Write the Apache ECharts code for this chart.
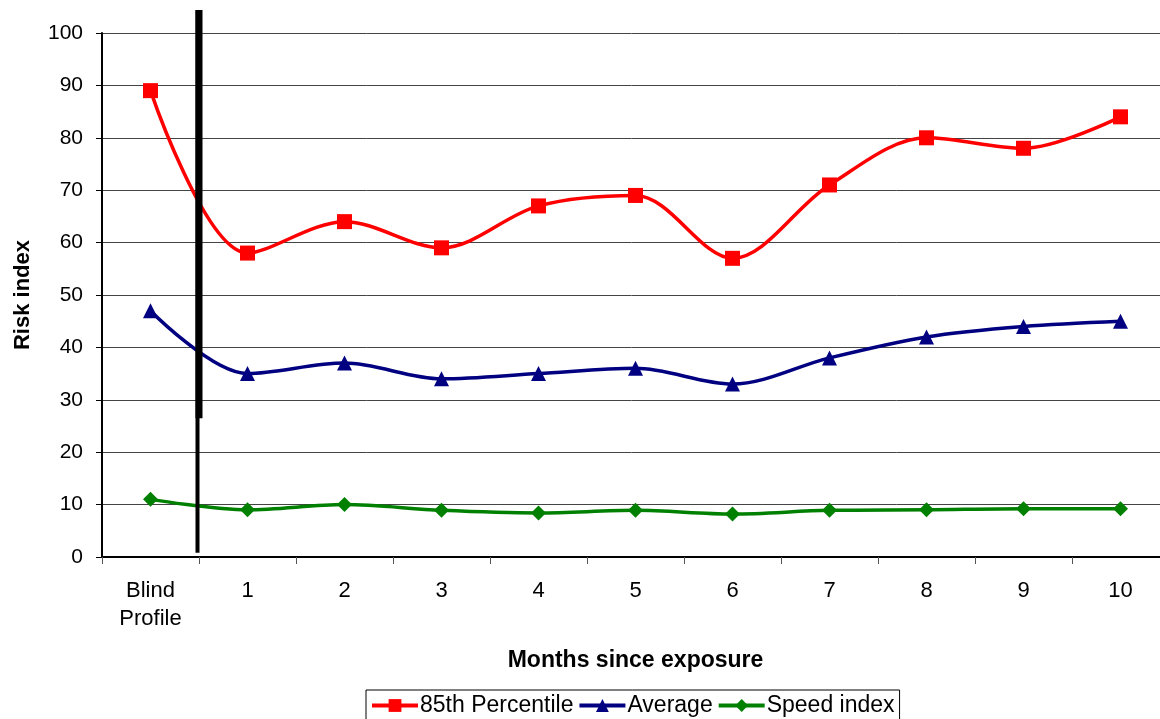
<!DOCTYPE html>
<html>
<head>
<meta charset="utf-8">
<script src="https://cdn.jsdelivr.net/npm/echarts@6/dist/echarts.min.js"></script>
<style>
  html, body { margin: 0; padding: 0; background: #fff; overflow: hidden; }
  #chart { width: 1160px; height: 719px; }
</style>
</head>
<body>
<div id="chart"></div>
<script>
// Categories along the x axis
const categories = ['Blind\nProfile', '1', '2', '3', '4', '5', '6', '7', '8', '9', '10'];

// Series values (risk index)
const percentile85 = [89, 58, 64, 59, 67, 69, 57, 71, 80, 78, 84];
const average = [47, 35, 37, 34, 35, 36, 33, 38, 42, 44, 45];
const speedIndex = [11, 9, 10, 8.9, 8.4, 8.9, 8.2, 8.9, 9, 9.2, 9.2];

// Y axis range and step
const yMin = 0, yMax = 100, yStep = 10;

// Separator between the blind profile and the monthly values (value-space extents)
const separatorTop = 104.4;
const separatorThickBottom = 26.5;
const separatorThinBottom = 0.8;

const FONT = '"Liberation Sans", Arial, sans-serif';

const chart = echarts.init(document.getElementById('chart'));

function lineSeries(name, data, color, symbol, size) {
  return {
    name: name,
    type: 'line',
    data: data,
    smooth: 0.33,
    symbol: symbol,
    symbolSize: size,
    lineStyle: { color: color, width: 3.5 },
    itemStyle: { color: color },
    z: 3
  };
}

chart.setOption({
  animation: false,
  backgroundColor: '#fff',
  textStyle: { fontFamily: FONT, color: '#000' },
  grid: { left: 102, top: 33, width: 1067, height: 524, containLabel: false, outerBoundsMode: 'none' },
  xAxis: {
    type: 'category',
    data: categories,
    boundaryGap: true,
    name: 'Months since exposure',
    nameLocation: 'middle',
    nameGap: 92,
    nameTextStyle: { fontFamily: FONT, fontSize: 23, fontWeight: 'bold', color: '#000' },
    axisLine: { lineStyle: { color: '#000', width: 2 } },
    axisTick: { show: true, interval: 0, alignWithLabel: false, length: 7, lineStyle: { color: '#555', width: 1 } },
    axisLabel: { interval: 0, fontFamily: FONT, fontSize: 22, color: '#000', margin: 20, lineHeight: 28 },
    splitLine: { show: false }
  },
  yAxis: {
    type: 'value',
    min: yMin,
    max: yMax,
    interval: yStep,
    name: 'Risk index',
    nameLocation: 'middle',
    nameGap: 68,
    nameRotate: 90,
    nameTextStyle: { fontFamily: FONT, fontSize: 22, fontWeight: 'bold', color: '#000' },
    axisLine: { show: true, lineStyle: { color: '#000', width: 2 } },
    axisTick: { show: true, length: 6, lineStyle: { color: '#000', width: 1 } },
    axisLabel: { fontFamily: FONT, fontSize: 21, color: '#000', margin: 19 },
    splitLine: { show: true, lineStyle: { color: '#444', width: 1 } }
  },
  legend: {
    left: 366,
    top: 690,
    itemWidth: 46,
    itemHeight: 16,
    itemGap: 4,
    padding: [4, 5, 6, 4],
    borderColor: '#000',
    borderWidth: 1,
    borderRadius: 0,
    lineStyle: { width: 4 },
    textStyle: { fontFamily: FONT, fontSize: 23, color: '#000', padding: [0, 0, 0, -3] },
    data: ['85th Percentile', 'Average', 'Speed index']
  },
  series: [
    lineSeries('85th Percentile', percentile85, '#ff0000', 'rect', 15),
    lineSeries('Average', average, '#000080', 'triangle', 15),
    lineSeries('Speed index', speedIndex, '#008000', 'diamond', 15)
  ]
});

// Thick vertical separator drawn between the first two categories
function drawSeparator() {
  const p0 = chart.convertToPixel({ gridIndex: 0 }, [0, 0]);
  const p1 = chart.convertToPixel({ gridIndex: 0 }, [1, 0]);
  const bx = (p0[0] + p1[0]) / 2;
  const yTop = chart.convertToPixel({ yAxisIndex: 0 }, separatorTop);
  const yThick = chart.convertToPixel({ yAxisIndex: 0 }, separatorThickBottom);
  const yThin = chart.convertToPixel({ yAxisIndex: 0 }, separatorThinBottom);
  chart.setOption({
    graphic: [
      { type: 'rect', z: 10, shape: { x: bx - 3.5, y: yTop, width: 4, height: yThin - yTop }, style: { fill: '#000' } },
      { type: 'rect', z: 10, shape: { x: bx - 3.5, y: yTop, width: 7, height: yThick - yTop }, style: { fill: '#000' } }
    ]
  });
}
drawSeparator();
</script>
</body>
</html>
